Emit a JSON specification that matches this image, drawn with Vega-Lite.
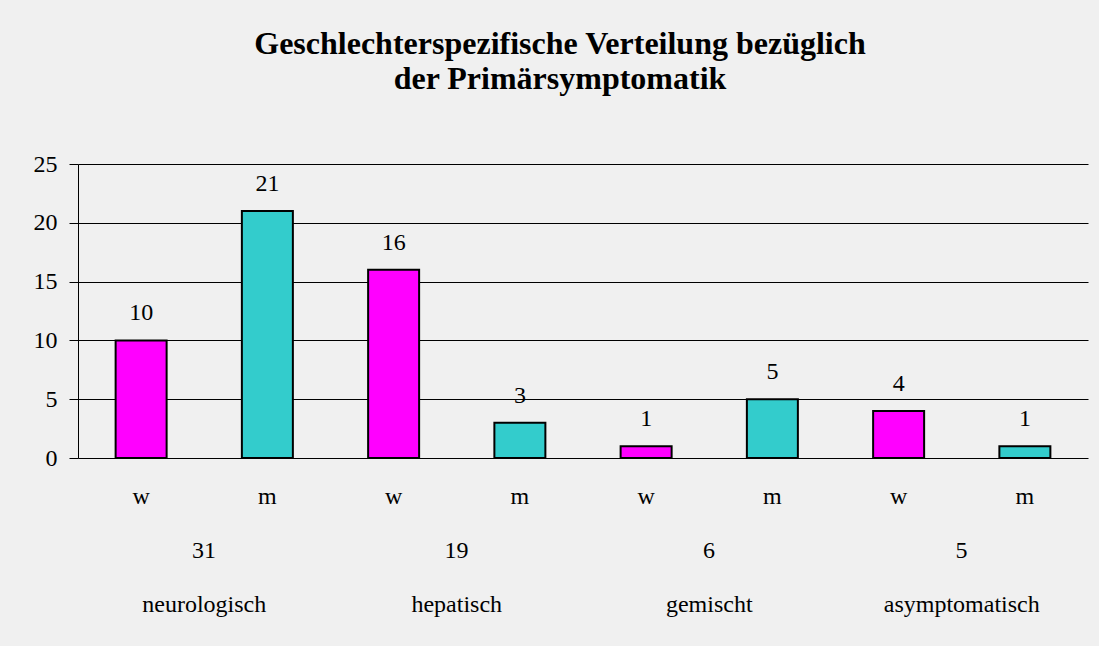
{
  "$schema": "https://vega.github.io/schema/vega-lite/v6.json",
  "width": 1010,
  "height": 294,
  "autosize": {"type": "none"},
  "padding": {"left": 78, "top": 164, "right": 11, "bottom": 188},
  "background": "#f0f0f0",
  "config": {"view": {"stroke": null}, "font": "Liberation Serif", "text": {"font": "Liberation Serif"}},
  "title": {
    "text": ["Geschlechterspezifische Verteilung bezüglich", "der Primärsymptomatik"],
    "font": "Liberation Serif",
    "fontSize": 32,
    "fontWeight": "bold",
    "color": "#000000",
    "anchor": "middle",
    "dx": -23,
    "lineHeight": 35,
    "offset": 56
  },
  "data": {
    "values": [
      {"group": "neurologisch", "sex": "w", "count": 10},
      {"group": "neurologisch", "sex": "m", "count": 21},
      {"group": "hepatisch", "sex": "w", "count": 16},
      {"group": "hepatisch", "sex": "m", "count": 3},
      {"group": "gemischt", "sex": "w", "count": 1},
      {"group": "gemischt", "sex": "m", "count": 5},
      {"group": "asymptomatisch", "sex": "w", "count": 4},
      {"group": "asymptomatisch", "sex": "m", "count": 1}
    ]
  },
  "encoding": {
    "x": {
      "field": "group",
      "type": "nominal",
      "sort": ["neurologisch", "hepatisch", "gemischt", "asymptomatisch"],
      "scale": {"paddingInner": 0, "paddingOuter": 0},
      "axis": {
        "title": null,
        "domain": false,
        "ticks": false,
        "labelAngle": 0,
        "labelFont": "Liberation Serif",
        "labelFontSize": 24,
        "labelColor": "#000000",
        "labelBaseline": "alphabetic",
        "labelPadding": 153
      }
    },
    "xOffset": {
      "field": "sex",
      "type": "nominal",
      "sort": ["w", "m"],
      "scale": {"paddingInner": 0.596, "paddingOuter": 0.298}
    }
  },
  "layer": [
    {
      "mark": {"type": "bar", "stroke": "#000000", "strokeWidth": 2},
      "encoding": {
        "y": {
          "field": "count",
          "type": "quantitative",
          "scale": {"domain": [0, 25], "nice": false},
          "axis": {
            "title": null,
            "values": [0, 5, 10, 15, 20, 25],
            "domain": true,
            "domainColor": "#000000",
            "ticks": true,
            "tickSize": 9,
            "tickColor": "#000000",
            "grid": true,
            "gridColor": "#000000",
            "gridOpacity": 1,
            "labelFont": "Liberation Serif",
            "labelFontSize": 24,
            "labelColor": "#000000",
            "labelPadding": 12
          }
        },
        "color": {
          "field": "sex",
          "type": "nominal",
          "scale": {"domain": ["w", "m"], "range": ["#ff00ff", "#33cccc"]},
          "legend": null
        }
      }
    },
    {
      "mark": {"type": "text", "fontSize": 24, "baseline": "alphabetic", "dy": -20, "color": "#000000"},
      "encoding": {
        "y": {"field": "count", "type": "quantitative"},
        "text": {"field": "count", "type": "quantitative"}
      }
    },
    {
      "mark": {"type": "text", "fontSize": 24, "baseline": "alphabetic", "dy": 46, "color": "#000000"},
      "encoding": {
        "y": {"datum": 0},
        "text": {"field": "sex", "type": "nominal"}
      }
    },
    {
      "transform": [{"aggregate": [{"op": "sum", "field": "count", "as": "total"}], "groupby": ["group"]}],
      "mark": {"type": "text", "fontSize": 24, "baseline": "alphabetic", "dy": 100, "color": "#000000"},
      "encoding": {
        "xOffset": {"value": 126},
        "y": {"datum": 0},
        "text": {"field": "total", "type": "quantitative"}
      }
    }
  ]
}
